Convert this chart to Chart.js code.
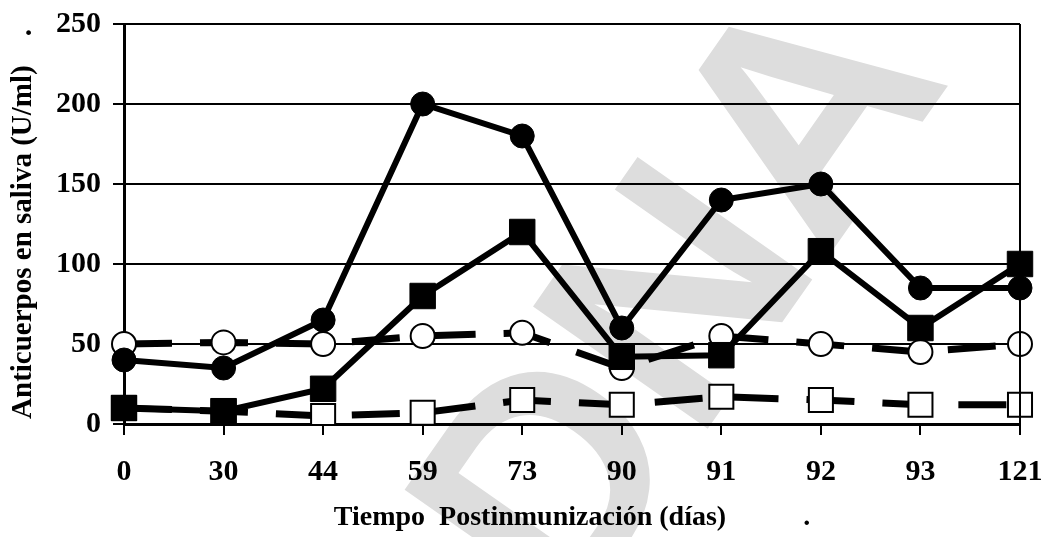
<!DOCTYPE html>
<html>
<head>
<meta charset="utf-8">
<script src="https://cdn.jsdelivr.net/npm/chart.js@4"></script>
<style>
  html, body { margin: 0; padding: 0; background: #fff; }
  #wrap { width: 1042px; height: 537px; }
</style>
</head>
<body>
<div id="wrap"><canvas id="antiChart"></canvas></div>
<script>
const dias = ["0", "30", "44", "59", "73", "90", "91", "92", "93", "121"];
const circuloLleno = [40, 35, 65, 200, 180, 60, 140, 150, 85, 85];
const cuadradoLleno = [10, 8, 22, 80, 120, 42, 43, 108, 60, 100];
const circuloVacio = [50, 51, 50, 55, 57, 35, 55, 50, 45, 50];
const cuadradoVacio = [10, 8, 5, 7, 15, 12, 17, 15, 12, 12];

const serif = "'Liberation Serif', 'Times New Roman', serif";

// grey "DNA" watermark behind the plot + frame on the right
const fondoPlugin = {
  id: "fondo",
  beforeDraw(chart) {
    const ctx = chart.ctx;
    ctx.save();
    ctx.fillStyle = "#dddddd";
    ctx.translate(690, 305);
    ctx.rotate(-55 * Math.PI / 180);
    ctx.font = "bold 310px 'Liberation Sans', Arial, sans-serif";
    ctx.letterSpacing = "0px";
    ctx.textAlign = "center";
    ctx.textBaseline = "middle";
    ctx.fillText("DNA", 0, 0);
    ctx.restore();
  },
  afterDatasetsDraw(chart) {
    const a = chart.chartArea;
    const ctx = chart.ctx;
    ctx.save();
    ctx.strokeStyle = "#000";
    ctx.lineWidth = 2;
    ctx.beginPath();
    ctx.moveTo(a.right, a.top);
    ctx.lineTo(a.right, a.bottom);
    ctx.stroke();
    ctx.restore();
  },
};

const datos = {
  labels: dias,
  datasets: [
    {
      data: circuloLleno,
      borderColor: "#000",
      backgroundColor: "#000",
      borderWidth: 6,
      pointStyle: "circle",
      pointRadius: 12,
      pointBackgroundColor: "#000",
      pointBorderWidth: 1,
      tension: 0,
    },
    {
      data: cuadradoLleno,
      borderColor: "#000",
      backgroundColor: "#000",
      borderWidth: 6,
      pointStyle: "rect",
      pointRadius: 18,
      pointBackgroundColor: "#000",
      pointBorderWidth: 1,
      tension: 0,
    },
    {
      data: circuloVacio,
      borderColor: "#000",
      borderWidth: 7,
      borderDash: [48, 28],
      pointStyle: "circle",
      pointRadius: 12,
      pointBackgroundColor: "#fff",
      pointBorderColor: "#000",
      pointBorderWidth: 2,
      tension: 0,
    },
    {
      data: cuadradoVacio,
      borderColor: "#000",
      borderWidth: 7,
      borderDash: [48, 28],
      pointStyle: "rect",
      pointRadius: 17,
      pointBackgroundColor: "#fff",
      pointBorderColor: "#000",
      pointBorderWidth: 2,
      tension: 0,
    },
  ],
};

const config = {
  type: "line",
  data: datos,
  plugins: [fondoPlugin],
  options: {
    responsive: true,
    maintainAspectRatio: false,
    animation: false,
    layout: { padding: { left: 0, top: 24, right: 0, bottom: 2 } },
    scales: {
      x: {
        offset: false,
        grid: {
          drawOnChartArea: false,
          drawTicks: true,
          tickLength: 11,
          color: "#000",
          lineWidth: 2,
        },
        border: { display: true, color: "#000", width: 3 },
        ticks: {
          color: "#000",
          padding: 19,
          font: { family: serif, size: 30, weight: "bold" },
          maxRotation: 0,
        },
        title: {
          display: true,
          text: "Tiempo  Postinmunización (días)           .",
          color: "#000",
          font: { family: serif, size: 28, weight: "bold" },
          padding: { top: 4, bottom: 0 },
        },
        afterFit(scale) {
          scale.height = 537 - 424 - 2;
          scale.paddingLeft = 0;
          scale.paddingRight = 22;
        },
      },
      y: {
        min: 0,
        max: 250,
        grid: {
          color: "#000",
          lineWidth: 2,
          tickLength: 11,
        },
        border: { display: true, color: "#000", width: 3 },
        ticks: {
          stepSize: 50,
          color: "#000",
          padding: 12,
          font: { family: serif, size: 30, weight: "bold" },
        },
        title: {
          display: true,
          text: "Anticuerpos en saliva (U/ml)    .",
          color: "#000",
          font: { family: serif, size: 29, weight: "bold" },
          padding: { top: 6, bottom: 0 },
        },
        afterFit(scale) {
          scale.width = 124;
          scale.paddingTop = 0;
          scale.paddingBottom = 0;
        },
      },
    },
    plugins: {
      legend: { display: false },
      tooltip: { enabled: false },
    },
  },
};

new Chart(document.getElementById("antiChart"), config);
</script>
</body>
</html>
